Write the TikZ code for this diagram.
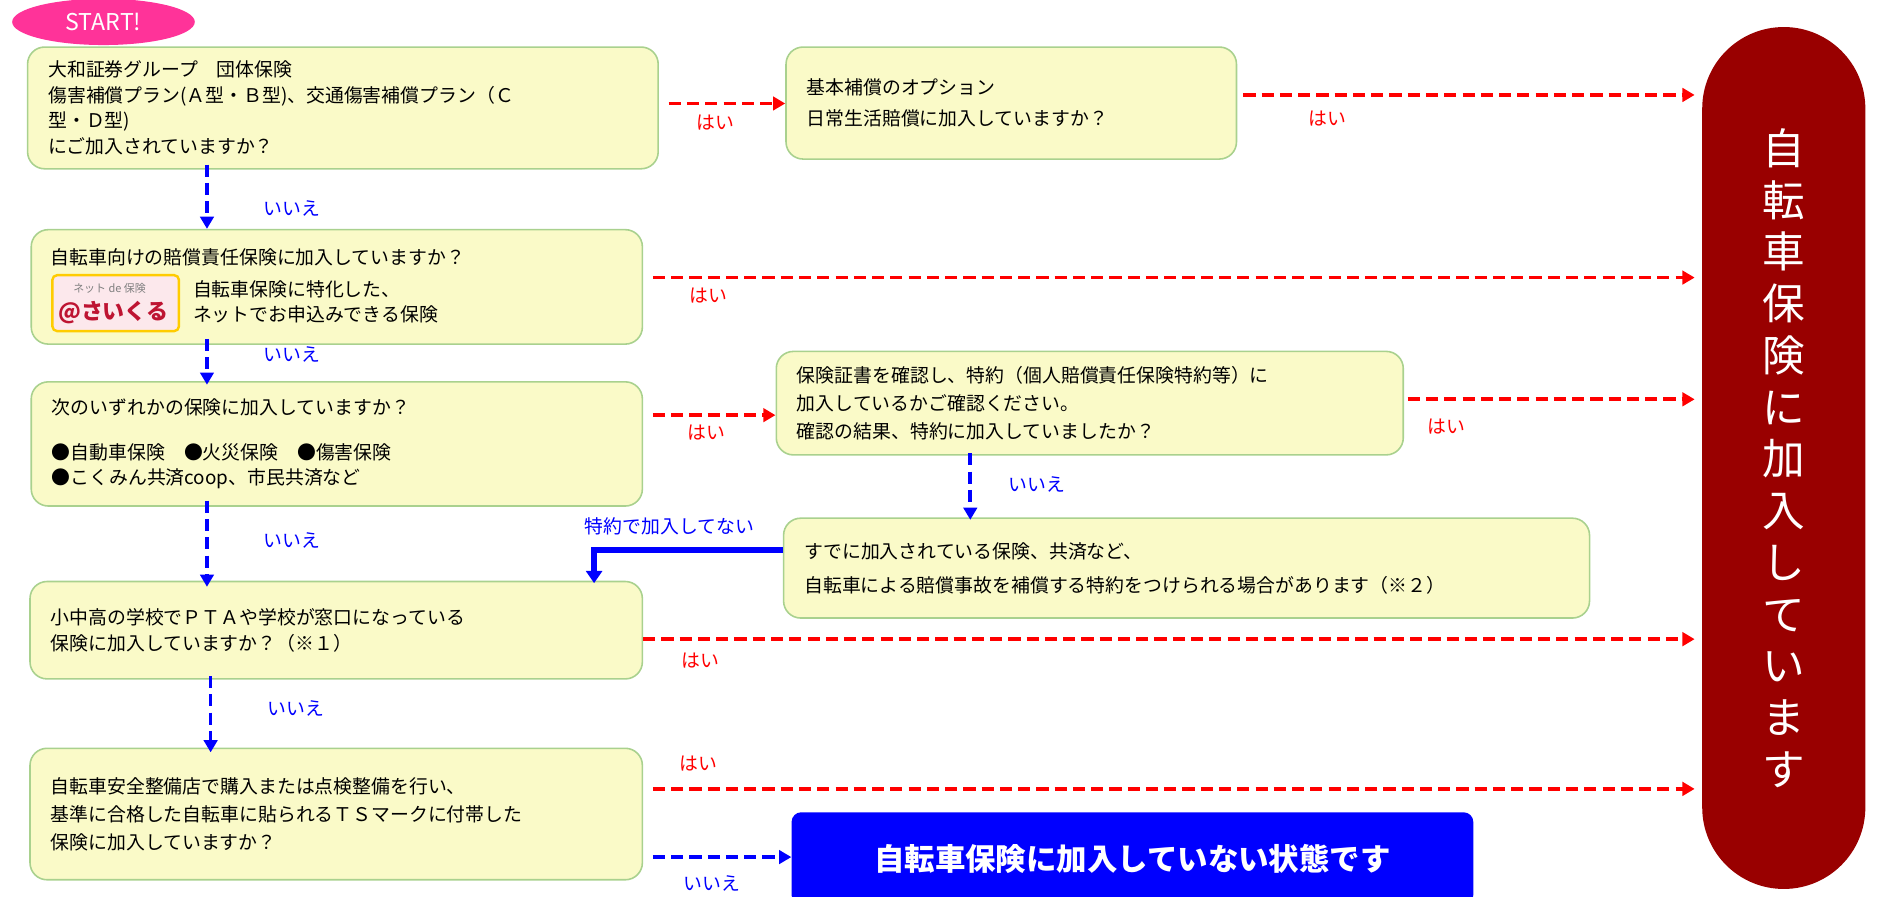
\documentclass[tikz,border=0pt]{standalone}
\usepackage{fontspec}
\setmainfont{Noto Sans CJK JP}
\usetikzlibrary{arrows.meta,shapes.geometric}
\definecolor{boxy}{HTML}{FAFAC8}
\definecolor{boxg}{HTML}{A9D18E}
\definecolor{dred}{HTML}{990000}
\definecolor{hpink}{HTML}{FF3399}
\begin{document}
\begin{tikzpicture}[x=1pt,y=-1pt,
  box/.style={draw=boxg,line width=1.3,fill=boxy,rounded corners=14,anchor=north west,align=left,inner xsep=17,inner ysep=0,font=\fontsize{15.5}{21}\selectfont},
  yes/.style={red,line width=3,dash pattern=on 10 off 5,-{Triangle[length=10,width=11]}},
  no/.style={blue,line width=3,dash pattern=on 10 off 5,-{Triangle[length=10,width=11]}},
  ylab/.style={red,font=\fontsize{15.5}{17}\selectfont},
  nlab/.style={blue,font=\fontsize{15.5}{17}\selectfont}]
\useasboundingbox (0,0) rectangle (1550,736);
\node[box,minimum width=518,minimum height=100,text width=484] (b1) at (22,38) {大和証券グループ　団体保険\\傷害補償プラン(Ａ型・Ｂ型)、交通傷害補償プラン（Ｃ\\型・Ｄ型)\\にご加入されていますか？};
\node[ellipse,fill=hpink,minimum width=150,minimum height=38,inner sep=0,text=white,font=\fontsize{19}{22}\selectfont] (st) at (85,18) {START!};
\node[box,minimum width=370,minimum height=92,text width=336,font=\fontsize{15.5}{25}\selectfont] (b2) at (645,38) {基本補償のオプション\\日常生活賠償に加入していますか？};
\node[draw=none,fill=dred,rounded corners=67,minimum width=134,minimum height=708,anchor=north west,text=white,align=center,font=\fontsize{35}{42.5}\selectfont] (big) at (1398,22) {自\\転\\車\\保\\険\\に\\加\\入\\し\\て\\い\\ま\\す};
\node[box,minimum width=502,minimum height=94,text width=468] (b3) at (25,188) {};
\node[anchor=west,font=\fontsize{15.5}{21}\selectfont] (b3t) at (38,211) {自転車向けの賠償責任保険に加入していますか？};
\node[draw={rgb,255:red,255;green,204;blue,0},line width=2,fill={rgb,255:red,252;green,232;blue,236},rounded corners=4,minimum width=104,minimum height=46,anchor=north west,inner sep=0] (logo) at (42,225) {};
\node[font=\fontsize{9}{10}\selectfont,text=gray] (lg1) at (90,237) {ネット de 保険};
\node[font=\bfseries\fontsize{18}{19}\selectfont,text={rgb,255:red,190;green,20;blue,50}] (lg2) at (93,257) {@さいくる};
\node[anchor=west,align=left,font=\fontsize{15.5}{21}\selectfont] (b3s) at (155,248) {自転車保険に特化した、\\ネットでお申込みできる保険};
\node[box,minimum width=502,minimum height=102,text width=468] (b4) at (25,313) {次のいずれかの保険に加入していますか？\\[16pt]●自動車保険　●火災保険　●傷害保険\\●こくみん共済coop、市民共済など};
\node[box,minimum width=515,minimum height=85,text width=481,font=\fontsize{15.5}{23}\selectfont] (b5) at (637,288) {保険証書を確認し、特約（個人賠償責任保険特約等）に\\加入しているかご確認ください。\\確認の結果、特約に加入していましたか？};
\node[box,minimum width=662,minimum height=82,text width=628,font=\fontsize{15.5}{28}\selectfont] (b6) at (643,425) {すでに加入されている保険、共済など、\\自転車による賠償事故を補償する特約をつけられる場合があります（※２）};
\node[box,minimum width=503,minimum height=80,text width=469] (b7) at (24,477) {小中高の学校でＰＴＡや学校が窓口になっている\\保険に加入していますか？（※１）};
\node[box,minimum width=503,minimum height=108,text width=469,font=\fontsize{15.5}{23}\selectfont] (b8) at (24,614) {自転車安全整備店で購入または点検整備を行い、\\基準に合格した自転車に貼られるＴＳマークに付帯した\\保険に加入していますか？};
\node[fill=blue,rounded corners=8,minimum width=560,minimum height=76,anchor=north west,text=white,font=\bfseries\fontsize{25}{28}\selectfont] (nb) at (650,667) {自転車保険に加入していない状態です};
% yes arrows
\draw[yes] ([xshift=8]b1.east|-0,85) -- (b2.west|-0,85);
\node[ylab] (y1) at (588,101) {はい};
\draw[yes] ([xshift=5]b2.east|-0,78) -- ([xshift=-6]big.west|-0,78);
\node[ylab] (y2) at (1090,97) {はい};
\draw[yes] ([xshift=8]b3.east|-0,228) -- ([xshift=-6]big.west|-0,228);
\node[ylab] (y3) at (582,243) {はい};
\draw[yes] ([xshift=8]b4.east|-0,341) -- (b5.west|-0,341);
\node[ylab] (y4) at (580,355) {はい};
\draw[yes] ([xshift=3]b5.east|-0,328) -- ([xshift=-6]big.west|-0,328);
\node[ylab] (y5) at (1188,350) {はい};
\draw[yes] (b7.east|-0,525) -- ([xshift=-6]big.west|-0,525);
\node[ylab] (y6) at (575,543) {はい};
\draw[yes] ([xshift=8]b8.east|-0,648) -- ([xshift=-6]big.west|-0,648);
\node[ylab] (y7) at (574,627) {はい};
% no arrows
\draw[no] ([yshift=4]b1.south-|170,0) -- (b3.north-|170,0);
\node[nlab] (n1) at (240,171) {いいえ};
\draw[no] ([yshift=5]b3.south-|170,0) -- ([yshift=-3]b4.north-|170,0);
\node[nlab] (n2) at (240,291) {いいえ};
\draw[no] ([yshift=5]b4.south-|170,0) -- ([yshift=-5]b7.north-|170,0);
\node[nlab] (n3) at (240,444) {いいえ};
\draw[no] ([yshift=2]b5.south-|797,0) -- ([yshift=-2]b6.north-|797,0);
\node[nlab] (n4) at (852,398) {いいえ};
\draw[no] ([yshift=3]b7.south-|173,0) -- ([yshift=-4]b8.north-|173,0);
\node[nlab] (n5) at (243,582) {いいえ};
\draw[no] ([xshift=8]b8.east|-0,704) -- (nb.west|-0,704);
\node[nlab] (n6) at (585,726) {いいえ};
% special
\draw[blue,line width=5,-{Triangle[length=10,width=13]}] (b6.west|-0,452) -- (488,452) -- ([yshift=-2]b7.north-|488,0);
\node[nlab] (sp) at (550,432) {特約で加入してない};
\end{tikzpicture}
\end{document}
